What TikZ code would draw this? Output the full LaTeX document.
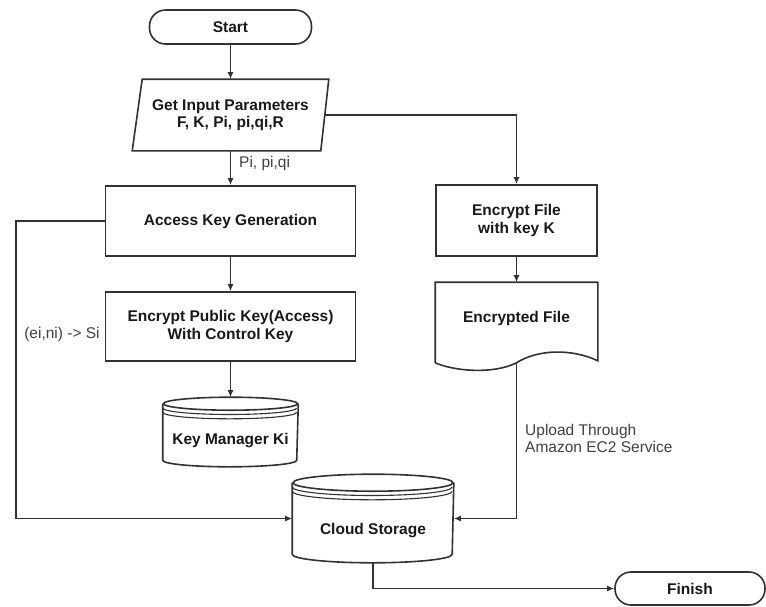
\documentclass[tikz,border=0pt]{standalone}
\usepackage{fontspec}
\setmainfont{Liberation Sans}
\usetikzlibrary{arrows.meta,calc}
\definecolor{ln}{RGB}{50,50,50}
\definecolor{tx}{RGB}{25,25,25}
\definecolor{lb}{RGB}{65,65,65}
\newcommand{\dbshape}[3]{%
  \draw[line] ($(#1.north west)+(0,#3)$) -- ($(#1.south west)+(0,-#3)$)
     arc[start angle=180, end angle=360, x radius=#2pt, y radius=#3pt]
     -- ($(#1.north east)+(0,#3)$);
  \draw[line] ($(#1.north)+(0,#3)$) ellipse[x radius=#2pt, y radius=#3pt];
  \draw[line, line width=1.1pt] ($(#1.north west)+(0,#3+4.3)$)
     arc[start angle=180, end angle=360, x radius=#2pt, y radius=#3pt];
  \draw[line, line width=1.1pt] ($(#1.north west)+(0,#3+8.6)$)
     arc[start angle=180, end angle=360, x radius=#2pt, y radius=#3pt];
}
\begin{document}
\begin{tikzpicture}[x=1pt,y=-1pt,
  line/.style={draw=ln, line width=1.6pt},
  arr/.style={line, -{Latex[length=7pt,width=6pt]}},
  box/.style={rectangle, draw=ln, line width=1.6pt, inner sep=0pt, align=center,
              text=tx, font=\bfseries\fontsize{15.5}{17.5}\selectfont},
  term/.style={box, rounded corners=16pt},
  ghost/.style={box, draw=none},
  lab/.style={text=lb, font=\fontsize{15.5}{17}\selectfont, inner sep=0pt, align=left},
]
\useasboundingbox (0,0) rectangle (766,606);
\fill[white] (0,0) rectangle (766,606);

% nodes
\node[term, minimum width=162pt, minimum height=34pt] (start) at (230.5,27) {Start};
\node[ghost, minimum width=195pt, minimum height=70pt] (input) at (230.5,115)
  {Get Input Parameters\\F, K, Pi, pi,qi,R};
\draw[line] ($(input.north west)+(10,0)$) -- (input.north east)
  -- ($(input.south east)+(-8,0)$) -- (input.south west) -- cycle;

\node[box, minimum width=250pt, minimum height=70pt] (akg) at (230.5,221) {Access Key Generation};
\node[box, minimum width=250pt, minimum height=69pt] (epk) at (230.5,326.5)
  {Encrypt Public Key(Access)\\With Control Key};
\node[ghost, minimum width=134pt, minimum height=68pt] (km) at (230.5,432)
  {\raisebox{-12.5pt}[0pt][0pt]{Key Manager Ki}};
\dbshape{km}{67}{6.5}

\node[box, minimum width=161pt, minimum height=71pt] (efk) at (516.5,220.5)
  {Encrypt File\\with key K};
\node[ghost, minimum width=161pt, minimum height=79pt] (ef) at (516.5,322.5)
  {\raisebox{0pt}[0pt][0pt]{Encrypted File}};
\draw[line] ($(ef.south west)$) -- (ef.north west) -- (ef.north east)
  -- ($(ef.south east)+(0,-2)$)
  .. controls ($(ef.south east)+(-25,-14)$) and ($(ef.south)+(22,-14)$) .. (ef.south)
  .. controls ($(ef.south)+(-24,12)$) and ($(ef.south west)+(18,8)$) .. (ef.south west);

\node[ghost, minimum width=160pt, minimum height=87pt] (cs) at (373,518.5)
  {\raisebox{-16pt}[0pt][0pt]{Cloud Storage}};
\dbshape{cs}{80}{8.5}

\node[term, minimum width=150pt, minimum height=33pt] (finish) at (690,588.5) {Finish};

% labels
\node[lab, anchor=west] (lpq) at (239,163) {Pi, pi,qi};
\node[lab, anchor=center] (lei) at (62,334) {(ei,ni) -> Si};
\node[lab, anchor=west] (lup) at (525,438.5) {Upload Through\\Amazon EC2 Service};

% connectors
\coordinate (lc) at (16,221);
\draw[arr] (start.south) -- (start.south |- input.north);
\draw[arr] (input.south) -- (akg.north);
\draw[arr] ($(input.east)+(-4,0)$) -| (efk.north);
\draw[arr] (akg.south) -- (epk.north);
\draw[arr] (epk.south) -- (km.north);
\draw[arr] (efk.south) -- (ef.north);
\draw[arr] (akg.west) -- (lc) |- (cs.west);
\draw[arr] (ef.south) |- (cs.east);
\draw[arr] (cs.south) |- (finish.west);
\end{tikzpicture}
\end{document}
